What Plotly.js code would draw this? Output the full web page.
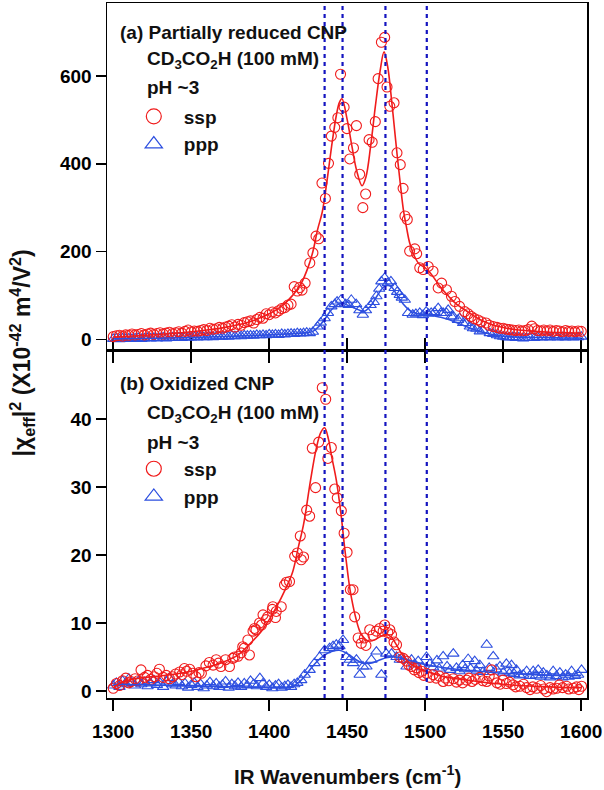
<!DOCTYPE html>
<html>
<head>
<meta charset="utf-8">
<script src="https://cdn.plot.ly/plotly-3.0.1.min.js"></script>
<style>html,body{margin:0;padding:0;background:#fff;}#chart{width:604px;height:790px;}</style>
</head>
<body>
<div id="chart"></div>
<script>
// ---------- (a) Partially reduced CNP : ssp ----------
const topSspX = [1300,1302,1304,1306,1308,1310,1312,1314,1316,1318,
  1320,1322,1324,1326,1328,1330,1332,1334,1336,1338,
  1340,1342,1344,1346,1348,1350,1352,1354,1356,1358,
  1360,1362,1364,1366,1368,1370,1372,1374,1376,1378,
  1380,1382,1384,1386,1388,1390,1392,1394,1396,1398,
  1400,1402,1404,1406,1408,1410,1412,1414,1416,1418,
  1419.5,1421,1423,1426,1428,1430,1431.7,1433.8,1436,1438,
  1439.8,1442,1444,1445.7,1448,1449.8,1451.6,1454,1455.9,1458,
  1460,1461.8,1464,1466,1468,1469.8,1471.9,1474,1475.5,1477.3,
  1480,1481.9,1484,1485.8,1487,1488.5,1490,1493.3,1494.5,1496.5,
  1498.7,1501.9,1505,1508.3,1510.5,1513.6,1516.8,1519,1522,1525.3,
  1527.5,1529.5,1531.5,1533.8,1536,1539,1541,1543.6,1546,1548,
  1550,1552,1554,1556,1558,1560,1562,1564,1566,1568.3,
  1570,1572,1574,1576,1578,1580,1582,1584,1586,1588,
  1590,1592,1594,1596,1598,1600];
const topSspY = [6,8,9,7,10,9,12,10,11,13,
  10,12,14,11,13,15,12,14,16,13,
  15,17,14,18,21,17,19,18,20,22,
  20,25,23,24,27,25,28,30,33,28,
  34,32,38,40,42,37,45,50,48,58,
  56,62,60,65,70,72,78,80,120,110,
  118,112,128,174,197,235,229,356,321,401,
  463,483,505,604,529,480,411,436,487,376,
  300,331,455,449,496,594,677,688,575,531,
  539,425,398,344,281,273,201,206,195,163,
  159,166,155,117,128,113,98,86,75,63,
  58,52,47,44,40,37,32,29,27,25,
  25,23,22,21,20,21,19,20,22,30,
  24,20,19,21,19,21,18,20,19,17,
  20,18,19,17,19,18];
const topSspFitX = [1300,1310,1320,1330,1340,1350,1360,1370,1380,1390,
  1400,1405,1410,1415,1420,1425,1428,1431,1434,1437,
  1440,1443,1445,1446.6,1450,1453,1456,1459.5,1462,1465,
  1468,1471,1473.6,1476,1478,1480,1482,1484,1486,1488,
  1490,1493,1496,1500,1503,1506,1510,1515,1520,1525,
  1530,1535,1540,1545,1550,1560,1570,1580,1590,1600];
const topSspFitY = [5,7,9,11,14,17,21,26,33,43,
  58,68,82,100,124,165,200,250,290,360,
  440,510,540,548,500,440,385,350,370,440,
  530,610,655,620,560,490,420,355,295,255,
  220,190,172,163,152,138,118,98,80,68,
  56,45,37,31,27,21,18,16,15,14];

// ---------- (a) Partially reduced CNP : ppp ----------
const topPppX = [1300,1302,1304,1306,1308,1310,1312,1314,1316,1318,
  1320,1322,1324,1326,1328,1330,1332,1334,1336,1338,
  1340,1342,1344,1346,1348,1350,1352,1354,1356,1358,
  1360,1362,1364,1366,1368,1370,1372,1374,1376,1378,
  1380,1382,1384,1386,1388,1390,1392,1394,1396,1398,
  1400,1402,1404,1406,1408,1410,1412,1414,1416,1418,
  1420,1422,1424,1426,1428,1431,1433,1435.5,1437.6,1439.8,
  1442,1443.5,1446,1449,1451,1452.6,1455.7,1457.8,1460,1462,
  1465,1467,1468.7,1470.5,1471.9,1474,1476,1478,1480.4,1482,
  1483.7,1485,1486.9,1489,1492,1494,1496.5,1498.5,1500.6,1502,
  1503.8,1506,1508.3,1510,1511.5,1513.6,1514.7,1516.8,1518,1521,
  1522,1524.3,1526,1528.6,1530.6,1532.8,1535,1537,1541.4,1543.6,
  1546,1548,1550,1552,1554,1556,1558,1560,1562.8,1565,
  1567,1570,1572,1575,1578,1580,1583,1585,1588,1590,
  1593,1595,1598,1600];
const topPppY = [1,2,0,2,1,2,1,2,3,1,
  2,3,2,3,2,3,4,2,3,4,
  3,4,3,5,4,4,5,4,6,5,
  5,6,5,7,6,6,7,6,8,7,
  8,7,9,8,9,8,10,9,10,9,
  11,10,11,10,12,11,12,13,12,14,
  13,14,15,14,17,29,38,48,60,75,
  80,86,90,80,78,90,80,66,56,66,
  78,85,98,115,132,140,128,132,117,108,
  101,95,90,60,56,58,60,55,63,58,
  60,62,71,60,60,60,67,52,52,44,
  48,37,37,29,25,24,18,20,14,12,
  9,7,6,5,4,5,3,4,2,3,
  4,3,5,4,5,4,6,4,5,4,
  6,4,5,6];
const topPppFitX = [1300,1350,1400,1420,1428,1432,1436,1440,1444,1447,
  1450,1454,1458,1461,1465,1469,1473,1476,1479,1482,
  1486,1490,1494,1498,1502,1506,1510,1515,1520,1525,
  1530,1535,1540,1545,1550,1560,1570,1580,1590,1600];
const topPppFitY = [1,4,10,14,18,30,48,68,79,82,
  78,72,66,64,76,98,118,124,117,100,
  80,66,59,57,56,53,50,45,38,31,
  24,18,13,10,7,5,4,4,3,3];

// ---------- (b) Oxidized CNP : ssp ----------
const botSspX = [1300,1302,1304,1306,1308,1310,1311.4,1314,1316,1317.8,
  1320,1322,1324,1326.3,1328,1329.6,1332,1334,1336,1338,
  1340,1342.6,1344,1345.6,1347,1349,1351,1353,1355,1356.5,
  1359.4,1361.6,1364,1366,1367.5,1369,1372,1374.5,1376.6,1377.7,
  1380,1382,1383,1384,1386.3,1387.3,1389.6,1390.6,1391.5,1393.8,
  1395,1396,1398,1399,1402,1402.3,1404,1404.5,1407.7,1409.8,
  1411,1413,1416.3,1418,1419.9,1420.5,1422,1424,1425.9,1427.6,
  1429.7,1431.7,1434,1436.2,1437.6,1439.8,1442,1443.6,1446.2,1448,
  1449.9,1452,1453.7,1454.8,1457,1459,1461,1462,1464.4,1466.5,
  1468.7,1470.8,1473,1474,1476,1477.3,1478.4,1480,1481.6,1483.7,
  1485.9,1488,1489.5,1491.2,1493,1494.4,1496,1497.6,1499,1500.8,
  1503,1505,1507,1509,1511.5,1513,1515,1518,1520,1522,
  1524,1526.5,1528,1530,1532,1535,1537,1539.4,1541,1542.6,
  1544,1546,1548,1549.9,1552,1554,1556.3,1558,1560.6,1563,
  1565,1567.2,1569,1571.4,1574,1576,1577.8,1580,1582,1584.2,
  1586,1588,1590.6,1592,1594.9,1597,1598.5,1600.2];
const botSspY = [0.4,1.1,0.8,1.5,1.9,1.2,1.4,1.8,1.5,3.1,
  2.0,2.3,1.7,2.1,2.6,3.2,2.0,2.3,1.8,2.1,
  2.5,2.8,2.4,3.3,2.9,3.2,2.6,2.1,2.7,2.6,
  3.7,4.2,3.8,4.6,4.1,3.6,4.6,3.6,4.8,5.0,
  5.1,5.6,6.5,6.3,7.5,5.3,8.8,9.2,9.0,10.0,
  9.7,11.2,10.5,10.9,12.0,12.4,10.8,11.7,12.4,15.6,
  16.0,16.1,19.8,20.3,22.8,19.3,19.7,26.6,25.7,35.7,
  29.9,36.6,44.6,42.9,34.2,35.8,29.7,28.4,26.5,23.2,
  20.4,14.9,14.9,10.9,7.8,7.0,7.8,6.7,9.0,8.2,
  8.8,9.2,8.8,9.7,8.6,9.0,8.3,7.2,6.8,5.0,
  4.8,4.4,3.8,3.6,3.1,3.4,2.7,2.9,2.3,2.6,
  2.0,2.4,1.9,2.2,1.4,1.9,1.5,1.8,1.3,1.6,
  1.2,1.6,1.9,1.4,1.7,2.0,1.5,1.4,2.2,3.1,
  1.8,1.2,1.0,1.6,1.1,1.3,0.9,0.6,0.7,1.0,
  0.5,0.2,0.6,0.4,0.8,0.3,-0.1,0.5,0.3,0.4,
  0.9,0.5,0.7,0.3,0.4,0.6,0.2,0.7];
const botSspFitX = [1300,1305,1310,1320,1330,1340,1350,1360,1370,1380,
  1390,1395,1400,1405,1410,1415,1418.8,1422,1426.5,1430,
  1433,1435.5,1438,1440,1443,1446,1448,1450.5,1452,1455,
  1458,1460,1463,1466,1469,1472,1475,1478,1481,1484,
  1487,1490,1495,1500,1505,1510,1520,1530,1540,1550,
  1560,1570,1580,1590,1600];
const botSspFitY = [0.5,1.2,1.6,2.0,2.2,2.5,2.9,3.5,4.2,5.3,
  7.5,8.8,10.5,12.5,14.8,17.5,21.3,24.5,31,35.5,
  38,38.7,37,34.5,31,26,21.8,17,14.6,11.2,
  8.8,8.0,7.4,7.4,7.7,8.1,8.3,8.0,7.0,5.8,
  4.8,4.1,3.4,2.9,2.6,2.2,1.8,1.5,1.2,1.0,
  0.8,0.7,0.6,0.5,0.5];

// ---------- (b) Oxidized CNP : ppp ----------
const botPppX = [1300,1302,1304,1306,1308,1310,1312,1314,1316,1318,
  1320,1322,1324,1326,1328,1330,1332,1334,1336,1338,
  1340,1342,1344,1346,1348,1350,1352,1354,1356,1358,
  1360,1362,1364,1366,1368,1370,1372,1374,1376,1378,
  1380,1382,1384,1386,1388,1390,1392,1394,1396,1398,
  1400,1402,1404,1406,1408,1410,1412,1414,1416,1418,
  1420.5,1422.7,1425.9,1429,1432.3,1435.5,1438.7,1440.9,1443,1445,
  1447.3,1449.4,1451.6,1453.7,1455.9,1458,1460.1,1462.3,1465.5,1468.7,
  1471.9,1475,1478.4,1481.6,1483.7,1485.9,1488,1491.2,1493,1495.5,
  1498,1500.8,1503,1505,1507.5,1509,1511.5,1514,1516,1518,
  1520,1522,1524,1525.5,1527.5,1529,1531.7,1533,1535,1537,
  1539.4,1541,1543.6,1545.5,1547.9,1550,1552,1554,1555.3,1557,
  1558.5,1560.5,1562.8,1565,1567,1569.2,1571,1572.4,1574,1575.7,
  1578,1580,1582,1584,1586.3,1588,1590,1592,1593.8,1596,
  1598,1600.2];
const botPppY = [0.8,1.2,0.6,1.5,1.0,1.8,1.2,0.8,1.4,1.0,
  1.3,0.7,1.1,1.6,0.9,1.2,0.6,1.4,1.9,1.0,
  0.8,1.3,0.7,1.1,0.5,0.9,1.2,0.6,1.0,0.4,
  0.8,1.3,0.7,1.1,0.6,0.9,1.4,0.5,1.0,0.7,
  1.2,0.6,1.1,0.8,1.5,1.0,0.7,1.9,1.1,0.6,
  0.9,0.4,0.8,1.0,0.5,0.7,0.9,0.6,1.0,1.2,
  1.6,2.4,3.1,4.1,5.0,6.0,6.3,6.6,6.8,6.6,
  7.5,5.0,4.6,4.1,4.6,2.4,3.6,3.6,4.6,5.8,
  2.4,5.5,5.5,5.0,4.6,4.6,3.6,4.6,3.9,4.4,
  3.5,5.0,4.0,3.5,4.5,3.3,5.1,3.6,3.1,5.5,
  3.4,2.9,3.8,3.2,4.7,3.3,4.4,3.0,3.8,2.8,
  6.8,3.4,5.1,3.2,3.6,2.7,4.0,2.6,3.8,2.5,
  3.1,2.3,2.4,2.9,2.2,2.9,2.3,3.1,2.1,2.7,
  2.3,2.0,2.9,2.2,2.7,2.0,2.4,2.1,2.9,2.2,
  2.4,3.1];
const botPppFitX = [1300,1320,1340,1360,1380,1400,1410,1415,1420,1425,
  1430,1435,1440,1445,1450,1455,1460,1465,1470,1475,
  1480,1485,1490,1495,1500,1510,1520,1530,1540,1550,
  1560,1570,1580,1590,1600];
const botPppFitY = [1.0,0.9,0.8,0.7,0.6,0.5,0.5,0.7,1.5,2.8,
  4.2,5.2,5.8,6.0,5.5,4.7,4.1,4.1,4.5,4.9,
  5.0,4.8,4.5,4.2,3.9,3.5,3.2,3.0,2.8,2.6,
  2.5,2.4,2.3,2.3,2.3];

// ---------- axes, markers ----------
const xTicks = [1300,1350,1400,1450,1500,1550,1600];
const topYTicks = [0,200,400,600];
const botYTicks = [0,10,20,30,40];
const vlinesX = [1435.5,1447,1474.5,1501];
const seriesNames = ['ssp', 'ppp'];

const RED = '#f01c1c', BLUE = '#2d4fe0', VBLUE = '#1414c0';
const FONT = 'Liberation Sans, Arial, Helvetica, sans-serif';

function pts(x, y, xa, ya, sym, col) {
  return {x, y, xaxis: xa, yaxis: ya, type: 'scatter', mode: 'markers', showlegend: false,
    cliponaxis: true,
    marker: {symbol: sym, size: 10, color: col, line: {color: col, width: 1.1}}};
}
function fit(x, y, xa, ya, col) {
  return {x, y, xaxis: xa, yaxis: ya, type: 'scatter', mode: 'lines', showlegend: false,
    hoverinfo: 'skip', line: {color: col, width: 1.6, shape: 'spline', smoothing: 1}};
}
// legend-only entries (no data points), larger symbols as in the reference key
function key(name, sym, col, leg, rank, xa, ya) {
  return {x: [null], y: [null], xaxis: xa, yaxis: ya, type: 'scatter', mode: 'markers', name,
    legend: leg, legendrank: rank, showlegend: true,
    marker: {symbol: sym, size: 15, color: col, line: {color: col, width: 1.2}}};
}

const data = [
  pts(topPppX, topPppY, 'x2', 'y2', 'triangle-up-open', BLUE),
  pts(topSspX, topSspY, 'x2', 'y2', 'circle-open', RED),
  fit(topPppFitX, topPppFitY, 'x2', 'y2', BLUE),
  fit(topSspFitX, topSspFitY, 'x2', 'y2', RED),
  pts(botPppX, botPppY, 'x', 'y', 'triangle-up-open', BLUE),
  pts(botSspX, botSspY, 'x', 'y', 'circle-open', RED),
  fit(botPppFitX, botPppFitY, 'x', 'y', BLUE),
  fit(botSspFitX, botSspFitY, 'x', 'y', RED),
  key(seriesNames[0], 'circle-open', RED, 'legend', 1, 'x2', 'y2'),
  key(seriesNames[1], 'triangle-up-open', BLUE, 'legend', 2, 'x2', 'y2'),
  key(seriesNames[0], 'circle-open', RED, 'legend2', 1, 'x', 'y'),
  key(seriesNames[1], 'triangle-up-open', BLUE, 'legend2', 2, 'x', 'y')
];

const axisCommon = {
  showline: true, linecolor: '#000', linewidth: 1.5, ticks: 'outside', tickcolor: '#000',
  tickwidth: 1.5, showgrid: false, zeroline: false, fixedrange: true,
  tickfont: {family: FONT, size: 19, color: '#000', weight: 'bold'}
};
const split = 0.4993;

const shapes = vlinesX.map(v => ({
  type: 'line', xref: 'x', yref: 'paper', x0: v, x1: v, y0: 0, y1: 1, layer: 'above',
  line: {color: VBLUE, width: 2.2, dash: '4px,4px'}
}));

function txt(t, xp, yp) {
  return {text: t, xref: 'paper', yref: 'paper', x: xp, y: yp, xanchor: 'left', yanchor: 'middle',
    showarrow: false, font: {family: FONT, size: 19, color: '#111', weight: 'bold'}};
}

const legendCommon = {
  xanchor: 'left', yanchor: 'top', bgcolor: 'rgba(0,0,0,0)', borderwidth: 0,
  font: {family: FONT, size: 19, color: '#111', weight: 'bold'}, itemsizing: 'trace',
  itemwidth: 50, tracegroupgap: 0, traceorder: 'normal'
};

const layout = {
  width: 604, height: 790,
  margin: {l: 107, r: 17, t: 3, b: 92, pad: 0},
  paper_bgcolor: '#fff', plot_bgcolor: '#fff',
  font: {family: FONT, color: '#000'},
  hovermode: false,
  xaxis: Object.assign({}, axisCommon, {domain: [0, 1], range: [1296, 1603.7], anchor: 'y',
    tickvals: xTicks, ticklen: 11, mirror: 'ticks', ticklabelstandoff: 5}),
  xaxis2: Object.assign({}, axisCommon, {domain: [0, 1], range: [1296, 1603.7], anchor: 'y2',
    tickvals: xTicks, ticklen: 11, mirror: true, showticklabels: false, matches: 'x'}),
  yaxis: Object.assign({}, axisCommon, {domain: [0, split], range: [-1.03, 50], anchor: 'x',
    tickvals: botYTicks, ticklen: 10, mirror: true}),
  yaxis2: Object.assign({}, axisCommon, {domain: [split, 1], range: [-26.7, 766.4], anchor: 'x2',
    tickvals: topYTicks, ticklen: 10, mirror: true}),
  shapes: shapes,
  legend: Object.assign({}, legendCommon, {x: 0.035, y: 0.864}),
  legend2: Object.assign({}, legendCommon, {x: 0.035, y: 0.357}),
  annotations: [
    txt('(a) Partially reduced CNP', 0.023, 0.958),
    txt('CD<sub>3</sub>CO<sub>2</sub>H (100 mM)', 0.079, 0.918),
    txt('pH ~3', 0.079, 0.878),
    txt('(b) Oxidized CNP', 0.023, 0.453),
    txt('CD<sub>3</sub>CO<sub>2</sub>H (100 mM)', 0.079, 0.409),
    txt('pH ~3', 0.079, 0.368),
    {text: 'IR Wavenumbers (cm<sup>-1</sup>)', xref: 'paper', yref: 'paper', x: 0.5, y: -0.111,
      xanchor: 'center', yanchor: 'middle', showarrow: false,
      font: {family: FONT, size: 20.5, color: '#111', weight: 'bold'}},
    {text: '|χ<sub>eff</sub>|<sup>2</sup> (X10<sup>-42</sup> m<sup>4</sup>/V<sup>2</sup>)',
      xref: 'paper', yref: 'paper', x: -0.178, y: 0.4965, textangle: -90,
      xanchor: 'center', yanchor: 'middle', showarrow: false,
      font: {family: FONT, size: 23, color: '#111', weight: 'bold'}}
  ]
};

Plotly.newPlot('chart', data, layout, {displayModeBar: false, staticPlot: true});
</script>
</body>
</html>
